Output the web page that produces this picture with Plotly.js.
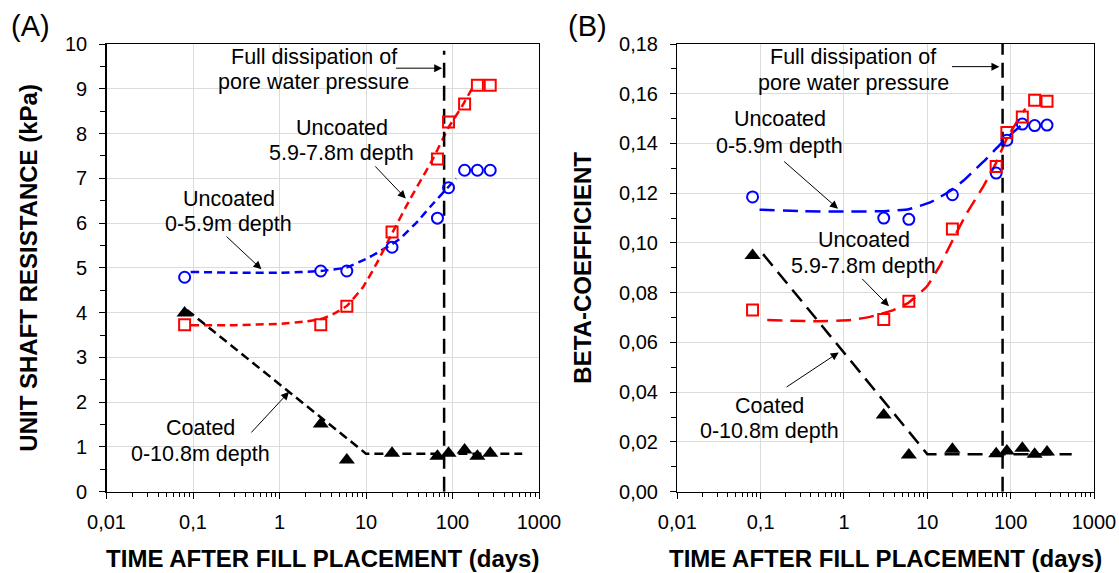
<!DOCTYPE html>
<html>
<head>
<meta charset="utf-8">
<script src="https://cdn.plot.ly/plotly-3.0.1.min.js"></script>
<style>html,body{margin:0;padding:0;background:#fff;}#chart{width:1119px;height:573px;}</style>
</head>
<body>
<div id="chart"></div>
<script>
// ---- data ----
const timeDays = [0.08, 3, 6, 20, 67, 90, 138, 194, 273];

// (A) unit shaft resistance (kPa)
const shaftUncoatedTop  = [4.79, 4.93, 4.93, 5.46, 6.11, 6.79, 7.18, 7.18, 7.18];
const shaftUncoatedDeep = [3.73, 3.73, 4.14, 5.80, 7.43, 8.26, 8.66, 9.08, 9.08];
const shaftCoated       = [3.99, 1.51, 0.71, 0.86, 0.79, 0.86, 0.93, 0.79, 0.86];

// (B) beta coefficient
const betaUncoatedTop  = [0.1185, 0.1100, 0.1095, 0.1194, 0.1281, 0.1413, 0.1478, 0.1472, 0.1474];
const betaUncoatedDeep = [0.0731, 0.0692, 0.0766, 0.1056, 0.1308, 0.1444, 0.1507, 0.1574, 0.1570];
const betaCoated       = [0.0950, 0.0308, 0.0148, 0.0171, 0.0153, 0.0164, 0.0175, 0.0151, 0.0160];

// trend (fit) lines
const fitShaftTopX  = [0.094, 0.3, 1, 3, 6, 11, 15, 20, 25, 40, 55, 89, 110];
const fitShaftTopY  = [4.91, 4.89, 4.89, 4.93, 5.01, 5.24, 5.39, 5.53, 5.66, 6.05, 6.36, 6.80, 7.0];
const fitShaftDeepX = [0.094, 0.3, 1, 2, 3.2, 4.2, 6, 9.3, 13.3, 20, 32, 60, 89, 128, 170];
const fitShaftDeepY = [3.72, 3.72, 3.75, 3.80, 3.87, 3.97, 4.15, 4.58, 5.10, 5.77, 6.52, 7.45, 8.12, 8.6, 9.02];
const fitShaftCoatX = [0.085, 10, 640];
const fitShaftCoatY = [4.06, 0.85, 0.85];

const fitBetaTopX  = [0.097, 0.3, 1.1, 3, 6, 10.8, 19, 27, 36, 50, 65, 88, 150];
const fitBetaTopY  = [0.1134, 0.1128, 0.1126, 0.1128, 0.1136, 0.1163, 0.1210, 0.1250, 0.1290, 0.1335, 0.1375, 0.1420, 0.1487];
const fitBetaDeepX = [0.12, 0.5, 1.2, 2.06, 3.92, 5.93, 9.86, 14.3, 19.7, 29.8, 47, 66, 90, 120, 150];
const fitBetaDeepY = [0.069, 0.0685, 0.069, 0.0703, 0.0730, 0.0760, 0.0825, 0.0912, 0.1005, 0.1120, 0.1228, 0.1318, 0.1420, 0.1490, 0.154];
const fitBetaCoatX = [0.107, 10, 540];
const fitBetaCoatY = [0.0955, 0.0151, 0.0151];

const dissipationDay = 80;
const shaftMax = 10, betaMax = 0.18;

const xTickVals = [0.01, 0.1, 1, 10, 100, 1000];
const xTickText = ['0,01', '0,1', '1', '10', '100', '1000'];
const betaTickVals = [0, 0.02, 0.04, 0.06, 0.08, 0.10, 0.12, 0.14, 0.16, 0.18];
const betaTickText = ['0,00','0,02','0,04','0,06','0,08','0,10','0,12','0,14','0,16','0,18'];

// ---- styling ----
const FONT = 'Liberation Sans, Arial, Helvetica, sans-serif';
const BLUE = '#0000ff', RED = '#ff0000', BLACK = '#000000';
const L = Math.log10;

function fitLine(x, y, color, dash, xa, ya) {
  return {x: x, y: y, xaxis: xa, yaxis: ya, mode: 'lines', type: 'scatter',
          line: {color: color, width: 2.5, dash: dash, shape: 'spline', smoothing: 0.4},
          hoverinfo: 'skip'};
}
function pts(y, sym, color, xa, ya) {
  const filled = sym === 'triangle-up';
  return {x: timeDays, y: y, xaxis: xa, yaxis: ya, mode: 'markers', type: 'scatter',
          marker: {symbol: sym, size: filled ? 14 : 11, color: color,
                   line: {color: color, width: filled ? 0 : 2}}};
}

const dashA = '8px,5px', dashB = '15px,8px';
const traces = [
  fitLine(fitShaftTopX, fitShaftTopY, BLUE, dashA, 'x', 'y'),
  fitLine(fitShaftDeepX, fitShaftDeepY, RED, dashA, 'x', 'y'),
  {x: fitShaftCoatX, y: fitShaftCoatY, xaxis: 'x', yaxis: 'y', mode: 'lines', line: {color: BLACK, width: 2.5, dash: '9px,5px'}},
  {x: [dissipationDay, dissipationDay], y: [0, shaftMax * 0.985], xaxis: 'x', yaxis: 'y', mode: 'lines', line: {color: BLACK, width: 2.5, dash: '15px,8px'}},
  pts(shaftUncoatedTop, 'circle-open', BLUE, 'x', 'y'),
  pts(shaftUncoatedDeep, 'square-open', RED, 'x', 'y'),
  pts(shaftCoated, 'triangle-up', BLACK, 'x', 'y'),

  fitLine(fitBetaTopX, fitBetaTopY, BLUE, dashB, 'x2', 'y2'),
  fitLine(fitBetaDeepX, fitBetaDeepY, RED, dashB, 'x2', 'y2'),
  {x: fitBetaCoatX, y: fitBetaCoatY, xaxis: 'x2', yaxis: 'y2', mode: 'lines', line: {color: BLACK, width: 2.5, dash: '15px,8px'}},
  {x: [dissipationDay, dissipationDay], y: [0, betaMax], xaxis: 'x2', yaxis: 'y2', mode: 'lines', line: {color: BLACK, width: 2.5, dash: '15px,8px'}},
  pts(betaUncoatedTop, 'circle-open', BLUE, 'x2', 'y2'),
  pts(betaUncoatedDeep, 'square-open', RED, 'x2', 'y2'),
  pts(betaCoated, 'triangle-up', BLACK, 'x2', 'y2')
];

const tickFont = {family: FONT, size: 20, color: '#000'};
const titleFont = {family: FONT, size: 24, color: '#000', weight: 'bold'};

function xAxis(domain, anchor) {
  return {type: 'log', domain: domain, anchor: anchor, range: [-2, 3],
    tickmode: 'array', tickvals: xTickVals, ticktext: xTickText,
    ticks: 'outside', ticklen: 6, tickcolor: '#000', tickfont: tickFont,
    ticklabelstandoff: 6,
    minor: {dtick: 'D1', ticks: 'outside', ticklen: 4, tickcolor: '#000', showgrid: false},
    showline: true, linecolor: '#000', linewidth: 1.3, mirror: true,
    showgrid: true, gridcolor: '#dcdcdc', gridwidth: 1, zeroline: false,
    title: {text: 'TIME AFTER FILL PLACEMENT (days)', font: titleFont, standoff: 18}};
}
const yDomain = [0.1419, 0.9232];

const annFont = {family: FONT, size: 21.5, color: '#000'};
function txt(xref, yref, xv, yv, t) {
  return {xref: xref, yref: yref, x: L(xv), y: yv, text: t, showarrow: false,
          xanchor: 'center', yanchor: 'middle', font: annFont};
}
function arr(xref, yref, tx, ty, hx, hy) {
  return {xref: xref, yref: yref, axref: xref, ayref: yref,
          x: hx, y: hy, ax: tx, ay: ty, text: '', showarrow: true,
          arrowhead: 2, arrowsize: 1.6, arrowwidth: 1, arrowcolor: '#000',
          standoff: 0, startstandoff: 0};
}

const annotations = [
  {xref: 'paper', yref: 'paper', x: 30 / 1119, y: 1 - 26 / 573, text: '(A)', showarrow: false,
   xanchor: 'center', yanchor: 'middle', font: {family: FONT, size: 29, color: '#000'}},
  {xref: 'paper', yref: 'paper', x: 587 / 1119, y: 1 - 26 / 573, text: '(B)', showarrow: false,
   xanchor: 'center', yanchor: 'middle', font: {family: FONT, size: 29, color: '#000'}},

  // panel A labels (x given as days)
  txt('x', 'y', Math.pow(10, 0.395), 9.71, 'Full dissipation of'),
  txt('x', 'y', Math.pow(10, 0.395), 9.15, 'pore water pressure'),
  arr('x', 'y', 1.329, 9.46, 1.881, 9.46),
  txt('x', 'y', Math.pow(10, 0.721), 8.12, 'Uncoated'),
  txt('x', 'y', Math.pow(10, 0.721), 7.56, '5.9-7.8m depth'),
  arr('x', 'y', 1.09, 7.30, 1.46, 6.55),
  txt('x', 'y', Math.pow(10, -0.589), 6.54, 'Uncoated'),
  txt('x', 'y', Math.pow(10, -0.589), 5.98, '0-5.9m depth'),
  arr('x', 'y', -0.629, 5.73, -0.209, 4.97),
  txt('x', 'y', Math.pow(10, -0.909), 1.43, 'Coated'),
  txt('x', 'y', Math.pow(10, -0.909), 0.84, '0-10.8m depth'),
  arr('x', 'y', -0.341, 1.29, 0.110, 2.23),

  // panel B labels
  txt('x2', 'y2', Math.pow(10, 0.110), 0.1746, 'Full dissipation of'),
  txt('x2', 'y2', Math.pow(10, 0.110), 0.1644, 'pore water pressure'),
  arr('x2', 'y2', 1.278, 0.1709, 1.865, 0.1709),
  txt('x2', 'y2', Math.pow(10, -0.770), 0.1498, 'Uncoated'),
  txt('x2', 'y2', Math.pow(10, -0.770), 0.1389, '0-5.9m depth'),
  arr('x2', 'y2', -0.736, 0.1333, -0.072, 0.1138),
  txt('x2', 'y2', Math.pow(10, 0.238), 0.1013, 'Uncoated'),
  txt('x2', 'y2', Math.pow(10, 0.238), 0.0909, '5.9-7.8m depth'),
  arr('x2', 'y2', 0.200, 0.0862, 0.540, 0.0746),
  txt('x2', 'y2', Math.pow(10, -0.890), 0.0345, 'Coated'),
  txt('x2', 'y2', Math.pow(10, -0.890), 0.0245, '0-10.8m depth'),
  arr('x2', 'y2', -0.706, 0.0417, -0.063, 0.056)
];

const layout = {
  width: 1119, height: 573,
  margin: {l: 0, r: 0, t: 0, b: 0},
  paper_bgcolor: '#fff', plot_bgcolor: '#fff',
  font: {family: FONT, color: '#000'},
  showlegend: false,
  xaxis: xAxis([106.5 / 1119, 539 / 1119], 'y'),
  yaxis: {domain: yDomain, anchor: 'x', range: [0, shaftMax], dtick: 1, tick0: 0,
    ticks: 'outside', ticklen: 6, tickcolor: '#000', tickfont: tickFont, ticklabelstandoff: 8,
    minor: {dtick: 0.5, ticks: 'outside', ticklen: 5, tickcolor: '#000', showgrid: false},
    showline: true, linecolor: '#000', linewidth: 1.3, mirror: true,
    showgrid: true, gridcolor: '#dcdcdc', zeroline: false,
    title: {text: 'UNIT SHAFT RESISTANCE (kPa)', font: titleFont, standoff: 20}},
  xaxis2: xAxis([677.3 / 1119, 1094 / 1119], 'y2'),
  yaxis2: {domain: yDomain, anchor: 'x2', range: [0, betaMax],
    tickmode: 'array', tickvals: betaTickVals, ticktext: betaTickText,
    ticks: 'outside', ticklen: 6, tickcolor: '#000', tickfont: tickFont, ticklabelstandoff: 8,
    minor: {dtick: 0.01, tick0: 0, ticks: 'outside', ticklen: 5, tickcolor: '#000', showgrid: false},
    showline: true, linecolor: '#000', linewidth: 1.3, mirror: true,
    showgrid: true, gridcolor: '#dcdcdc', zeroline: false,
    title: {text: 'BETA-COEFFICIENT', font: titleFont, standoff: 20}},
  annotations: annotations
};

Plotly.newPlot('chart', traces, layout, {displayModeBar: false, staticPlot: true});
</script>
</body>
</html>
